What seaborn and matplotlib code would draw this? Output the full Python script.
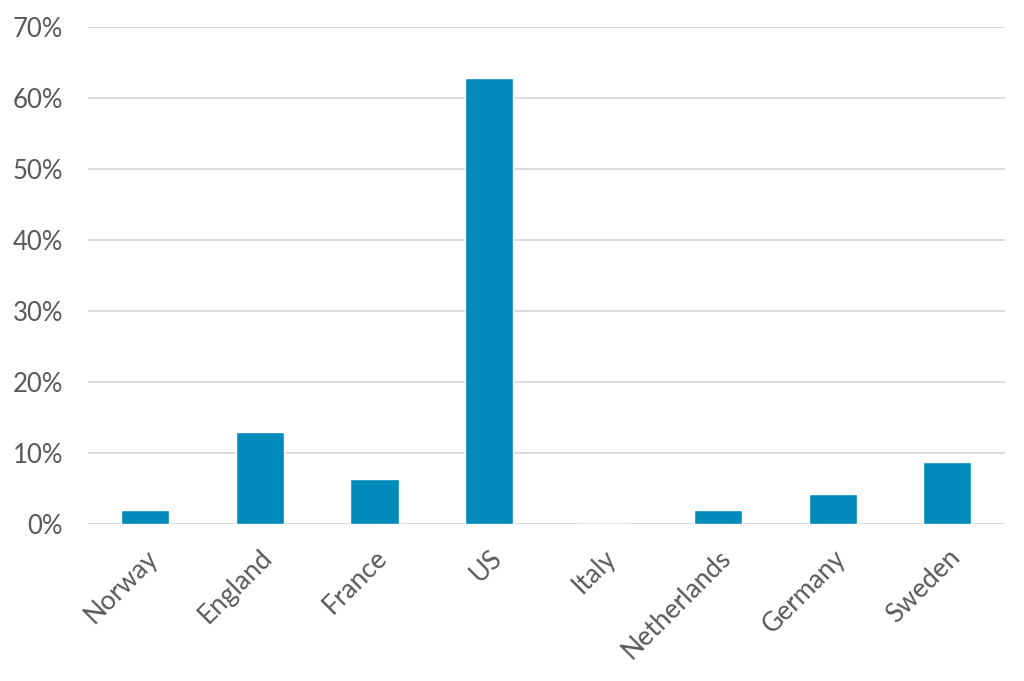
import seaborn as sns
import pandas as pd
import matplotlib.pyplot as plt
from matplotlib.ticker import PercentFormatter

countries = ["Norway", "England", "France", "US", "Italy", "Netherlands", "Germany", "Sweden"]
shares = [2.0, 13.0, 6.4, 62.9, 0.0, 2.0, 4.3, 8.7]

df = pd.DataFrame({"country": countries, "share": shares})

sns.set_theme(style="white")
plt.rcParams["font.family"] = ["Lato", "DejaVu Sans"]

fig = plt.figure(figsize=(10.24, 6.81), dpi=100)
ax = fig.add_axes([0.086, 0.2305, 0.895, 0.7295])
sns.barplot(data=df, x="country", y="share", color="#008BBB", width=0.42,
            saturation=1, ax=ax, zorder=3)

ax.set_ylim(0, 70)
ax.set_xlim(-0.5, 7.5)
ax.set_yticks(range(0, 71, 10))
ax.yaxis.set_major_formatter(PercentFormatter(decimals=0))
ax.grid(axis="y", color="#D9D9D9", linewidth=1.3, zorder=0)
ax.set_axisbelow(True)
for s in ax.spines.values():
    s.set_visible(False)
ax.tick_params(axis="both", length=0, labelsize=18.5, labelcolor="#595959")
ax.tick_params(axis="y", pad=18)
ax.tick_params(axis="x", pad=15, labelsize=19)
plt.setp(ax.get_xticklabels(), rotation=45, ha="right", rotation_mode="anchor")
ax.set_xlabel("")
ax.set_ylabel("")

fig.savefig("out.png", dpi=100)
